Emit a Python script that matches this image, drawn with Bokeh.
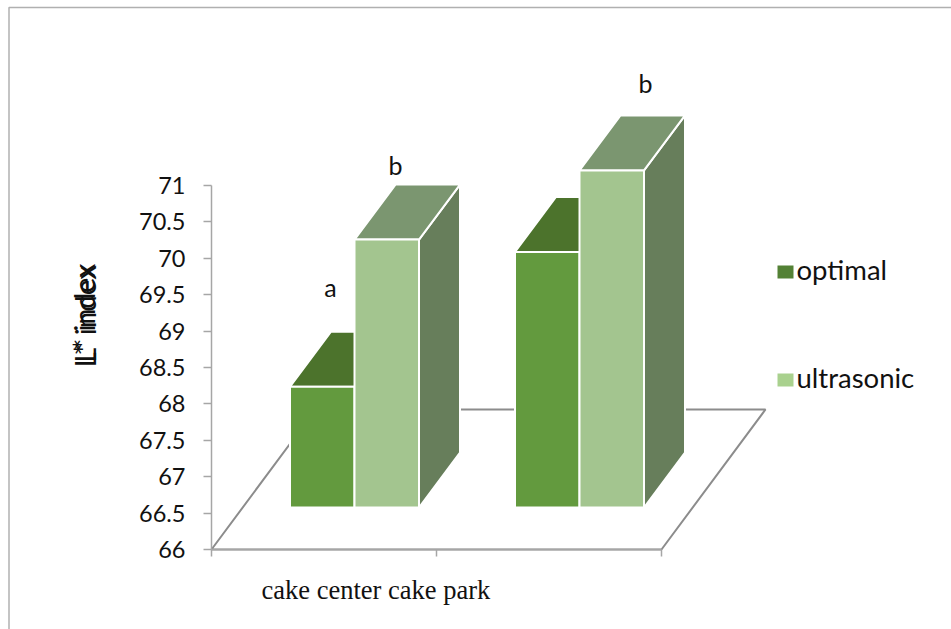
from bokeh.core.properties import value
from bokeh.embed import file_html
from bokeh.models import FixedTicker
from bokeh.plotting import figure
from bokeh.resources import INLINE

# Chart data
categories = ["cake center", "cake park"]
series_names = ["optimal", "ultrasonic"]
optimal = [67.66, 69.51]
ultrasonic = [69.68, 70.63]
significance_optimal = ["a", ""]
significance_ultrasonic = ["b", "b"]
y_ticks = [66, 66.5, 67, 67.5, 68, 68.5, 69, 69.5, 70, 70.5, 71]
y_tick_labels = ["66", "66.5", "67", "67.5", "68", "68.5", "69", "69.5", "70", "70.5", "71"]

# Page geometry, in pixels
W, H = 951, 629
AXIS_X, AXIS_BOTTOM, AXIS_TOP = 211, 549, 185
UNIT = (AXIS_BOTTOM - AXIS_TOP) / 5.0
GROUP_STEP = 225
BAR_W = 64.5
FIRST_BAR_X = 289.5
DEPTH_X, DEPTH_Y = 41, 55
BASE_LIFT = 42  # the bars stand this far behind the front edge of the floor
LETTER_A_POS = [(330, 286)]
LETTER_B_POS = [(395, 164), (645, 82)]


def vy(px):
    """Value on the y scale for a vertical pixel position."""
    return 66 + (AXIS_BOTTOM - px) / UNIT


p = figure(
    width=W, height=H, output_backend="svg", toolbar_location=None,
    x_range=(0, W), y_range=(vy(H), vy(0)),
    min_border=0, min_border_left=0, min_border_right=0, min_border_top=0, min_border_bottom=0,
    outline_line_color=None, background_fill_color="white", border_fill_color="white",
)
p.grid.visible = False

# Value and category axes, placed inside the plotting area
GREY = "#a6a6a6"
FLOOR = "#8c8c8c"
yax = p.yaxis[0]
yax.fixed_location = AXIS_X
yax.bounds = (66, 71)
yax.ticker = FixedTicker(ticks=y_ticks)
yax.major_label_overrides = dict(zip(y_ticks, y_tick_labels))
yax.major_label_text_font = "Lato"
yax.major_label_text_font_size = "23.5px"
yax.major_label_text_color = "#111111"
yax.major_label_standoff = 18
yax.major_tick_in = 0
yax.major_tick_out = 8
yax.minor_tick_line_color = None
yax.axis_line_color = GREY
yax.major_tick_line_color = GREY
yax.axis_line_width = 1.5
yax.major_tick_line_width = 1.5

x_tick_positions = [AXIS_X + i * GROUP_STEP for i in range(3)]
xax = p.xaxis[0]
xax.fixed_location = 66
xax.bounds = (AXIS_X, AXIS_X + 2 * GROUP_STEP)
xax.ticker = FixedTicker(ticks=x_tick_positions)
xax.major_label_overrides = {t: "" for t in x_tick_positions}
xax.major_tick_in = 0
xax.major_tick_out = 7
xax.minor_tick_line_color = None
xax.axis_line_color = GREY
xax.major_tick_line_color = GREY
xax.axis_line_width = 1.5
xax.major_tick_line_width = 1.5

# Frame around the page
p.line([8.5, 8.5, W], [vy(H), vy(7), vy(7)], line_color="#b0b0b0", line_width=1.5)

# Floor of the 3-D plot
p.line([AXIS_X, 315, 765, 661, AXIS_X],
       [vy(AXIS_BOTTOM), vy(409), vy(409), vy(AXIS_BOTTOM), vy(AXIS_BOTTOM)],
       line_color=FLOOR, line_width=2)

# Colours of each series: front, top, side
faces = [("#639a3e", "#4c732c", "#4c732c"), ("#a3c58f", "#7b9670", "#677e5b")]
dv = DEPTH_Y / UNIT
lift = BASE_LIFT / UNIT
edge = dict(line_color="white", line_width=2)

for g in range(len(categories)):
    for s, vals in enumerate((optimal, ultrasonic)):
        x0 = FIRST_BAR_X + g * GROUP_STEP + s * BAR_W
        x1 = x0 + BAR_W
        base = 66 + lift
        top = vals[g] + lift
        front, roof, side = faces[s]
        p.patch([x1, x1 + DEPTH_X, x1 + DEPTH_X, x1],
                [base, base + dv, top + dv, top], fill_color=side, **edge)
        p.patch([x0, x0 + DEPTH_X, x1 + DEPTH_X, x1],
                [top, top + dv, top + dv, top], fill_color=roof, **edge)
        p.quad(left=x0, right=x1, bottom=base, top=top, fill_color=front, **edge)

# Significance letters above the bars
letter_font = value("Lato")
letters = [t for t in significance_optimal if t] + [t for t in significance_ultrasonic if t]
for letter, (lx, ly) in zip(letters, LETTER_A_POS + LETTER_B_POS):
    p.text([lx], [vy(ly)], text=[letter], text_font=letter_font, text_font_size="25px",
           text_align="center", text_baseline="middle", text_color="#111111")

# Legend
swatches = ["#538135", "#a9d18e"]
legend_rows = [271, 379]
for name, colour, row in zip(series_names, swatches, legend_rows):
    p.quad(left=777, right=793, bottom=vy(row + 7), top=vy(row - 6), fill_color=colour, line_color=None)
    p.text([796], [vy(row - 2)], text=[name], text_font=letter_font, text_font_size="27.5px",
           text_align="left", text_baseline="middle", text_color="#111111")

# Category caption under the axis
p.text([261], [vy(589)], text=[" ".join(categories)], text_font=value("Liberation Serif"),
       text_font_size="26.5px", text_align="left", text_baseline="middle", text_color="#111111")

# The value axis title, set twice with a slight offset
for start, size in ((367, "29.5px"), (362, "28.5px")):
    p.text([84], [vy(start)], text=["L* index"], text_font=letter_font, text_font_size=size, angle=1.5708,
           text_align="left", text_baseline="alphabetic", text_color="#111111")

open("out.html", "w").write(file_html(p, INLINE))
